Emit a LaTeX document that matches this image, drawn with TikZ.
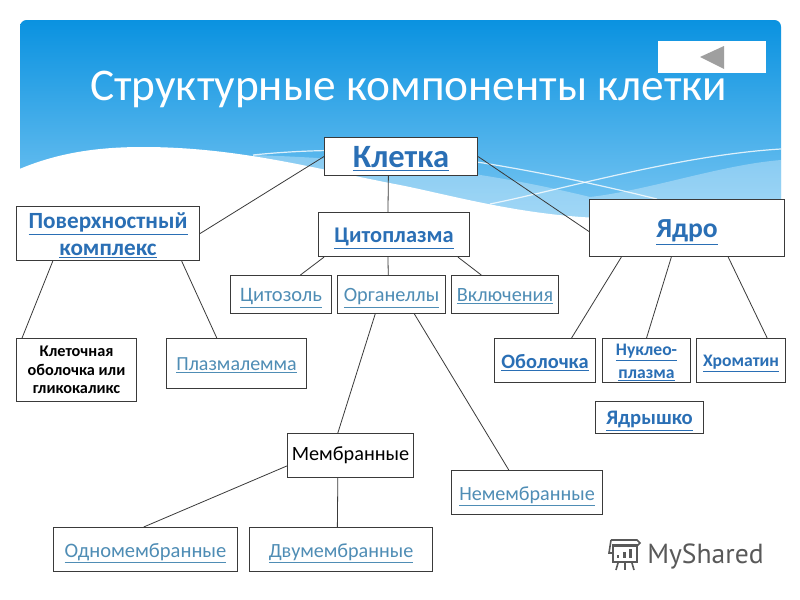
\documentclass[tikz,border=0pt]{standalone}
\usepackage{fontspec}
\setmainfont{Carlito}
\usetikzlibrary{calc}
\definecolor{linkc}{HTML}{2A6FB5}
\definecolor{lightlink}{HTML}{4F8DB5}
\definecolor{linec}{HTML}{3A3A3A}
\newcommand{\lnk}[1]{\raisebox{-0.5pt}[\height][0pt]{\underline{#1}}}
\newcommand{\fs}[1]{\fontsize{#1pt}{\dimexpr #1pt*115/100\relax}\selectfont}
\newcommand{\sfr}[2]{($(#1.south west)!#2!(#1.south east)$)}
\newcommand{\nfr}[2]{($(#1.north west)!#2!(#1.north east)$)}
\tikzset{
  x=0.75pt,y=-0.75pt,
  boxn/.style={draw=linec,fill=white,line width=0.8pt,inner sep=0pt,align=center,anchor=north west},
  conn/.style={draw=linec,line width=0.6pt},
  boldlink/.style={text=linkc,font=\fs{#1}\bfseries},
  thinlink/.style={text=lightlink,font=\fs{#1}},
}
% box: name, x0, y0, x1, y1, style, text
\newcommand{\bx}[7]{\pgfmathsetmacro{\bw}{(#4-#2)*0.75}\pgfmathsetmacro{\bh}{(#5-#3)*0.75}%
  \node[boxn,minimum width=\bw pt,minimum height=\bh pt,#6] (#1) at (#2,#3) {#7};}
\begin{document}
\begin{tikzpicture}
\useasboundingbox (0,0) rectangle (800,600);
\fill[white] (0,0) rectangle (800,600);
\begin{scope}
\clip[rounded corners=5pt] (20,20) rectangle (781,225);
\shade[top color={rgb,255:red,10;green,146;blue,224},bottom color={rgb,255:red,125;green,200;blue,243}] (20,20) rectangle (781,225);
% light bands
\fill[white,opacity=0.3] (253,155) .. controls (400,160) and (500,175) .. (590,197) .. controls (650,190) and (720,165) .. (781,160) -- (781,225) -- (253,225) -- cycle;
\draw[white,opacity=0.8,line width=0.9pt] (253,155) .. controls (320,148) and (400,148) .. (477,162) .. controls (540,172) and (600,185) .. (657,199);
\draw[white,opacity=0.8,line width=0.9pt] (490,204) .. controls (560,190) and (680,155) .. (781,149);
\end{scope}
% white wave
\fill[white] (19.5,169) .. controls (60,152) and (100,147) .. (143,147) .. controls (240,147) and (320,170) .. (400,185) .. controls (450,195) and (520,215) .. (600,218) -- (600,260) -- (19.5,260) -- cycle;
\node[text=white,anchor=base west,inner sep=0pt,font=\fs{34}] (title) at (90,100) {Структурные компоненты клетки};
\node[fill=white,inner sep=0pt,minimum width=81pt,minimum height=24pt,anchor=north west] (btn) at (658,41) {};
\fill[gray!75] (700,57) -- (724,46) -- (724,69) -- cycle;
% boxes
\bx{kl}{324}{137}{477}{175}{boldlink=24.4}{\lnk{Клетка}}
\bx{pov}{16}{206}{199}{260}{boldlink=17.4}{\lnk{Поверхностный}\\\lnk{комплекс}}
\bx{cyt}{318}{212}{469}{256}{boldlink=16.8}{\lnk{Цитоплазма}}
\bx{yad}{589}{199}{784}{256}{boldlink=20.7}{\lnk{Ядро}}
\bx{czl}{230}{275}{331}{313}{thinlink=15.4}{\lnk{Цитозоль}}
\bx{org}{337}{275}{445}{313}{thinlink=15.2}{\lnk{Органеллы}}
\bx{vkl}{451}{275}{558}{313}{thinlink=15.2}{\lnk{Включения}}
\bx{obk}{16}{338}{136}{401}{font=\fs{12.2}\bfseries}{Клеточная\\оболочка или\\гликокаликс}
\bx{plz}{166}{338}{306}{388}{thinlink=15}{\lnk{Плазмалемма}}
\bx{obo}{494}{338}{595}{382}{boldlink=15.3}{\lnk{Оболочка}}
\bx{nuk}{602}{338}{690}{382}{boldlink=13.2}{\lnk{Нуклео-}\\[2pt]\lnk{плазма}}
\bx{hro}{696}{338}{785}{382}{boldlink=13.2}{\lnk{Хроматин}}
\bx{yrs}{595}{401}{703}{433}{boldlink=15.5}{\lnk{Ядрышко}}
\bx{mem}{287}{433}{413}{477}{font=\fs{15.2}}{Мембранные}
\bx{nem}{451}{470}{602}{514}{thinlink=15.1}{\lnk{Немембранные}}
\bx{odn}{53}{527}{237}{571}{thinlink=15.4}{\lnk{Одномембранные}}
\bx{dvu}{249}{527}{432}{571}{thinlink=15.1}{\lnk{Двумембранные}}
% connectors
\draw[conn] (kl.west) -- ($(pov.north east)!0.5!(pov.south east)$);
\draw[conn] \sfr{kl}{0.418} -- \nfr{cyt}{0.46};
\draw[conn] (kl.east) -- ($(yad.north west)!0.56!(yad.south west)$);
\draw[conn] \sfr{pov}{0.2} -- \nfr{obk}{0.05};
\draw[conn] \sfr{pov}{0.9} -- \nfr{plz}{0.36};
\draw[conn] \sfr{cyt}{0.04} -- \nfr{czl}{0.69};
\draw[conn] \sfr{cyt}{0.46} -- \nfr{org}{0.47};
\draw[conn] \sfr{cyt}{0.92} -- \nfr{vkl}{0.28};
\draw[conn] \sfr{yad}{0.165} -- \nfr{obo}{0.76};
\draw[conn] \sfr{yad}{0.42} -- \nfr{nuk}{0.5};
\draw[conn] \sfr{yad}{0.71} -- \nfr{hro}{0.79};
\draw[conn] \sfr{org}{0.35} -- \nfr{mem}{0.4};
\draw[conn] \sfr{org}{0.71} -- \nfr{nem}{0.38};
\draw[conn] ($(mem.north west)!0.73!(mem.south west)$) -- \nfr{odn}{0.49};
\draw[conn] \sfr{mem}{0.4} -- \nfr{dvu}{0.48};
% logo
\node[text=black!65,anchor=base west,inner sep=0pt,font={\fontspec{PT Sans}\fs{20.7}}] (logo) at (647,563) {MyShared};
\begin{scope}[black!65,line width=1.2pt]
\draw (613,545) rectangle (637,562);
\draw (611,540) -- (637,540) -- (640,543) -- (637,546) -- (613,546);
\draw (611,540) -- (609,553) -- (613,553);
\fill (617,555) rectangle (619,558);
\fill (623,552) rectangle (626,558);
\fill (629,549) rectangle (632,558);
\draw (618,563) -- (616,570);
\draw (625,563) -- (625,570);
\draw (632,563) -- (634,570);
\end{scope}
\end{tikzpicture}
\end{document}
